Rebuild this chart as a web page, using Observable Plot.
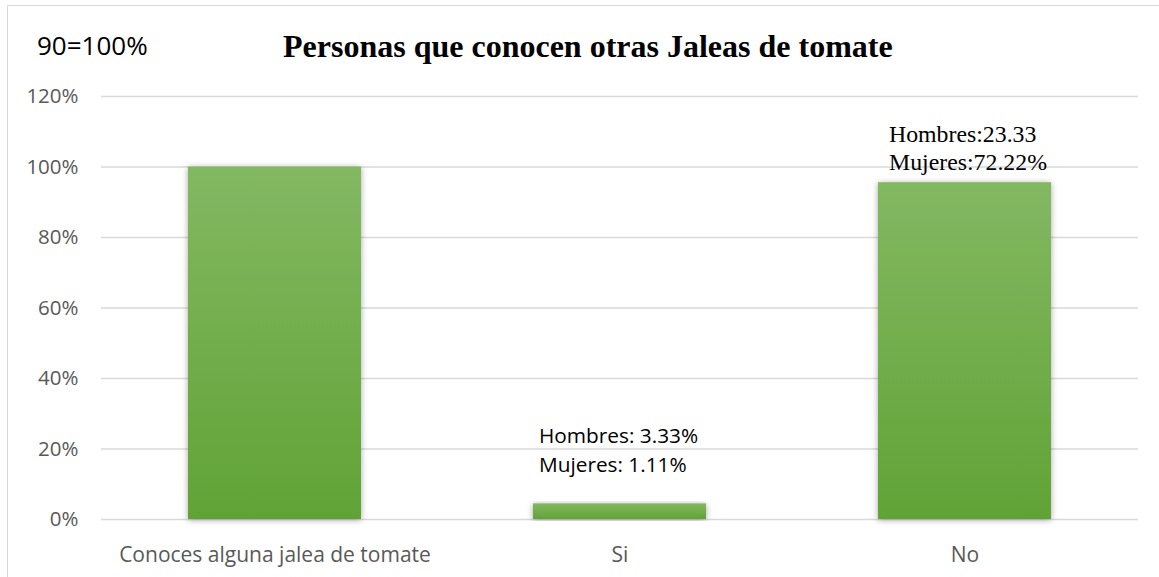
<!DOCTYPE html>
<html>
<head>
<meta charset="utf-8">
<script src="https://cdn.jsdelivr.net/npm/d3@7"></script>
<script src="https://cdn.jsdelivr.net/npm/@observablehq/plot@0.6"></script>
<style>
  body { margin: 0; background: #fff; }
  #wrap { position: relative; width: 1159px; height: 577px; overflow: hidden; background: #fff; }
  #frame { position: absolute; left: 7px; top: 5px; width: 1300px; height: 700px;
           border-left: 1.5px solid #d9d9d9; border-top: 1.5px solid #d9d9d9; pointer-events: none; }
  #header { display: block; }
  #chart svg { display: block; }
</style>
</head>
<body>
<div id="wrap">
  <div id="frame"></div>
  <svg id="header" width="1159" height="80">
    <text id="note" x="37" y="55" font-family="Open Sans" font-size="26" fill="#000">90=100%</text>
    <text id="title" x="283" y="57" font-family="Liberation Serif" font-weight="bold" font-size="32" fill="#000">Personas que conocen otras Jaleas de tomate</text>
  </svg>
  <div id="chart"></div>
</div>
<script>
// ---- data ----
const categories = ["Conoces alguna jalea de tomate", "Si", "No"];
const values = [100, 4.44, 95.55];
const yTicks = [0, 20, 40, 60, 80, 100, 120];
const annotCategories = ["Si", "No"];
const annotValues = [4.44, 95.55];
const annotTexts = ["Hombres: 3.33%\nMujeres: 1.11%", "Hombres:23.33\nMujeres:72.22%"];

const table = categories.map((c, i) => ({cat: c, value: values[i]}));
const annots = annotCategories.map((c, i) => ({cat: c, value: annotValues[i], text: annotTexts[i]}));

const plot = Plot.plot({
  width: 1159,
  height: 497,
  marginTop: 16,
  marginBottom: 58,
  marginLeft: 101,
  marginRight: 21,
  style: {fontFamily: "Open Sans", fontSize: "20px", background: "transparent"},
  x: {domain: categories, paddingInner: 0.5, paddingOuter: 0.25, label: null},
  y: {domain: [0, 120], label: null},
  marks: [
    Plot.gridY(yTicks, {stroke: "#d9d9d9", strokeOpacity: 1, strokeWidth: 1.5}),
    Plot.barY(table, {x: "cat", y: "value", fill: "url(#barGrad)"}),
    Plot.axisY(yTicks, {tickSize: 0, tickPadding: 23, tickFormat: d => d + "%", color: "#595959", fontSize: 20.5, label: null}),
    Plot.axisX({tickSize: 0, tickPadding: 28, color: "#595959", fontSize: 21, label: null}),
    Plot.text(annots.filter(d => d.cat === "Si"), {
      x: "cat", y: "value", text: "text", textAnchor: "start", lineAnchor: "top",
      dx: -81, dy: -82, fontFamily: "Open Sans", fontSize: 20.8, lineHeight: 1.4, fill: "#000"
    }),
    Plot.text(annots.filter(d => d.cat === "No"), {
      x: "cat", y: "value", text: "text", textAnchor: "start", lineAnchor: "top",
      dx: -76, dy: -60, fontFamily: "Liberation Serif", fontSize: 23.8, lineHeight: 1.17, fill: "#000"
    })
  ]
});

const svg = d3.select(plot.tagName.toLowerCase() === "svg" ? plot : plot.querySelector("svg"));
const defs = svg.insert("defs", ":first-child");
const filt = defs.append("filter").attr("id", "barShadow").attr("x", "-10%").attr("y", "-10%").attr("width", "120%").attr("height", "120%");
filt.append("feDropShadow").attr("dx", 0).attr("dy", 1).attr("stdDeviation", 3).attr("flood-color", "#000").attr("flood-opacity", 0.35);
const grad = defs.append("linearGradient").attr("id", "barGrad").attr("x1", 0).attr("y1", 0).attr("x2", 0).attr("y2", 1);
grad.append("stop").attr("offset", "0%").attr("stop-color", "#83b862");
grad.append("stop").attr("offset", "100%").attr("stop-color", "#61a336");
svg.selectAll("g[aria-label='bar'] rect").attr("filter", "url(#barShadow)");

document.getElementById("chart").appendChild(plot);
</script>
</body>
</html>
